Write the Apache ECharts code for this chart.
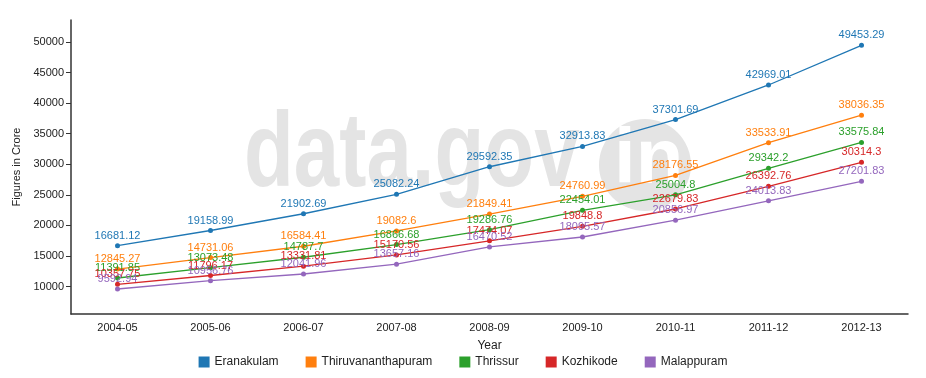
<!DOCTYPE html>
<html>
<head>
<meta charset="utf-8">
<script src="https://cdn.jsdelivr.net/npm/echarts@6/dist/echarts.min.js"></script>
</head>
<body style="margin:0">
<div id="container" style="width:926px;height:378px"></div>
<script type="text/javascript">
    var years = ['2004-05', '2005-06', '2006-07', '2007-08', '2008-09', '2009-10', '2010-11', '2011-12', '2012-13'];
    var eranakulam = [16681.12, 19158.99, 21902.69, 25082.24, 29592.35, 32913.83, 37301.69, 42969.01, 49453.29];
    var thiruvananthapuram = [12845.27, 14731.06, 16584.41, 19082.6, 21849.41, 24760.99, 28176.55, 33533.91, 38036.35];
    var thrissur = [11391.85, 13073.48, 14787.7, 16866.68, 19286.76, 22454.01, 25004.8, 29342.2, 33575.84];
    var kozhikode = [10357.75, 11796.17, 13331.81, 15170.56, 17474.07, 19848.8, 22679.83, 26392.76, 30314.3];
    var malappuram = [9592.94, 10956.76, 12041.96, 13657.16, 16470.52, 18095.57, 20856.97, 24013.83, 27201.83];
    var yTicks = [10000, 15000, 20000, 25000, 30000, 35000, 40000, 45000, 50000];

    var colors = ['#1f77b4', '#ff7f0e', '#2ca02c', '#d62728', '#9467bd'];
    var font = 'Arial, "Liberation Sans", sans-serif';

    function makeSeries(name, data) {
        return {
            name: name,
            type: 'line',
            data: data,
            symbol: 'circle',
            symbolSize: 5,
            lineStyle: {width: 1.3},
            label: {
                show: true,
                position: 'top',
                distance: 2,
                fontSize: 11,
                fontFamily: font,
                color: 'inherit'
            },
            emphasis: {disabled: true},
            z: 3
        };
    }

    var myChart = echarts.init(document.getElementById('container'));
    var option = {
        animation: false,
        color: colors,
        textStyle: {fontFamily: font},
        // watermark behind the lines
        graphic: [
            {
                type: 'text',
                x: 244,
                y: 104,
                scaleX: 0.77,
                z: -10,
                silent: true,
                style: {text: 'data.gov', fontSize: 106, fontWeight: 'bold', fontFamily: font, fill: '#e4e4e4'}
            },
            {
                type: 'circle',
                shape: {cx: 645, cy: 165, r: 46},
                z: -10,
                silent: true,
                style: {fill: '#e4e4e4'}
            },
            {
                type: 'text',
                x: 614,
                y: 122,
                z: -9,
                silent: true,
                style: {text: 'in', fontSize: 78, fontWeight: 'bold', fontFamily: font, fill: '#ffffff'}
            }
        ],
        legend: {
            bottom: 5,
            left: 'center',
            itemGap: 27,
            itemWidth: 11,
            itemHeight: 11,
            icon: 'rect',
            textStyle: {fontSize: 12, color: '#222', fontFamily: font},
            data: ['Eranakulam', 'Thiruvananthapuram', 'Thrissur', 'Kozhikode', 'Malappuram']
        },
        grid: {left: 71, right: 18, top: 20, bottom: 64},
        xAxis: {
            type: 'category',
            data: years,
            boundaryGap: true,
            name: 'Year',
            nameLocation: 'middle',
            nameGap: 26,
            nameTextStyle: {fontSize: 12, color: '#222'},
            axisLine: {lineStyle: {color: '#333', width: 1.5}},
            axisTick: {length: 5, lineStyle: {color: '#333'}},
            axisLabel: {fontSize: 11, color: '#222', margin: 8}
        },
        yAxis: {
            type: 'value',
            min: 5500,
            max: 53600,
            name: 'Figures in Crore',
            nameLocation: 'middle',
            nameGap: 48,
            nameTextStyle: {fontSize: 11, color: '#222'},
            splitLine: {show: false},
            axisLine: {show: true, lineStyle: {color: '#333', width: 1.5}},
            axisTick: {show: true, length: 5, customValues: yTicks, lineStyle: {color: '#333'}},
            axisLabel: {
                fontSize: 11,
                color: '#222',
                margin: 7,
                customValues: yTicks,
                formatter: function (v) { return String(v); }
            }
        },
        series: [
            makeSeries('Eranakulam', eranakulam),
            makeSeries('Thiruvananthapuram', thiruvananthapuram),
            makeSeries('Thrissur', thrissur),
            makeSeries('Kozhikode', kozhikode),
            makeSeries('Malappuram', malappuram)
        ]
    };
    myChart.setOption(option);
</script>
</body>
</html>
